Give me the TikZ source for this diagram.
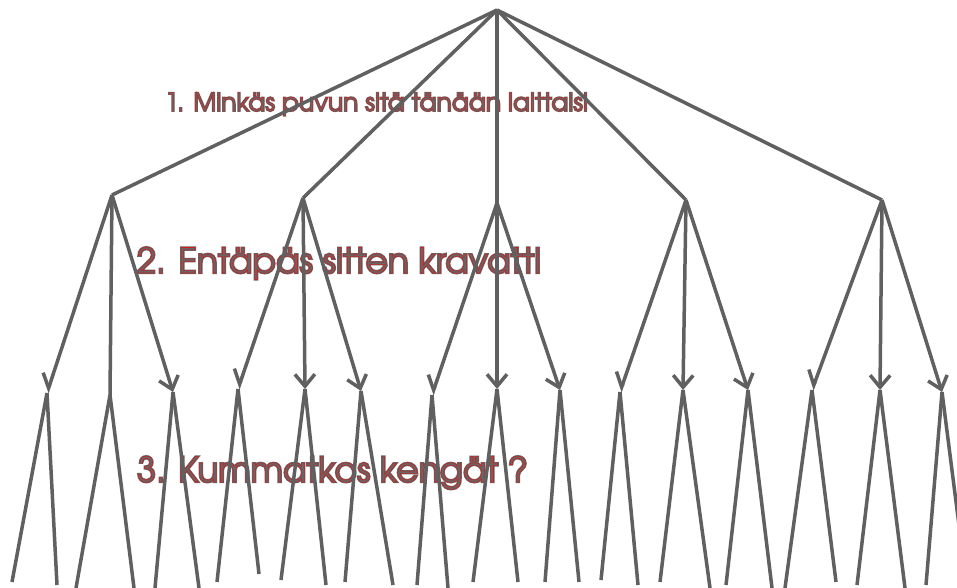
\documentclass[tikz,border=0pt]{standalone}
\usepackage{fontspec}
\setmainfont{TeX Gyre Adventor}
\usepackage{graphicx}
\usetikzlibrary{arrows.meta}
\definecolor{lgray}{HTML}{606060}
\definecolor{tgray}{HTML}{666666}
\definecolor{tred}{HTML}{D41C1C}
\newcommand{\duotext}[1]{%
  \makebox[0pt][l]{\special{pdf:literal 2 Tr 0.6 w}\textcolor{tgray}{#1}\special{pdf:literal 0 Tr}}%
  \special{pdf:literal 1 Tr 0.16 w}\textcolor{tred}{#1}\special{pdf:literal 0 Tr}}
\begin{document}
\begin{tikzpicture}[x=1pt,y=-1pt,
  edge/.style={draw=lgray, line width=3.5pt},
  barb/.style={-{Straight Barb[length=12pt,width=20pt]}},
  half/.style={-{Straight Barb[length=13pt,width=20pt,harpoon,swap]}},
  lab/.style={anchor=base west, inner sep=0pt, outer sep=0pt}]
\useasboundingbox (0,0) rectangle (957,588);
\clip (0,0) rectangle (957,588);
% labels
\node[lab] (t1) at (165,111) {\resizebox{423pt}{!}{\duotext{1. Minkäs puvun sitä tänään laittaisi}}};
\node[lab] (t2) at (137,273) {\resizebox{404pt}{!}{\duotext{2. Entäpäs sitten kravatti}}};
\node[lab] (t3) at (137,482) {\resizebox{391pt}{!}{\duotext{3. Kummatkos kengät ?}}};
% level 0 and 1
\coordinate (top) at (497,10);
\coordinate (n1) at (112,195);
\coordinate (n2) at (303,198);
\coordinate (n3) at (497,203);
\coordinate (n4) at (686,200);
\coordinate (n5) at (882,200);
% level 2
\coordinate (a1) at (47,393);  \coordinate (a2) at (110,395); \coordinate (a3) at (173,392);
\coordinate (b1) at (238,389); \coordinate (b2) at (305,389); \coordinate (b3) at (361,391);
\coordinate (c1) at (432,395); \coordinate (c2) at (497,389); \coordinate (c3) at (560,390);
\coordinate (d1) at (620,392); \coordinate (d2) at (683,390); \coordinate (d3) at (748,390);
\coordinate (e1) at (812,390); \coordinate (e2) at (880,390); \coordinate (e3) at (942,392);
% leaves
\coordinate (a1l) at (12,582);  \coordinate (a1r) at (57,585);
\coordinate (a2l) at (76,588);  \coordinate (a2r) at (134,588);
\coordinate (a3l) at (155,588); \coordinate (a3r) at (199,588);
\coordinate (b1l) at (217,582); \coordinate (b1r) at (259,574);
\coordinate (b2l) at (281,580); \coordinate (b2r) at (326,585);
\coordinate (b3l) at (345,582); \coordinate (b3r) at (393,585);
\coordinate (c1l) at (417,585); \coordinate (c1r) at (448,588);
\coordinate (c2l) at (473,582); \coordinate (c2r) at (518,582);
\coordinate (c3l) at (545,582); \coordinate (c3r) at (579,582);
\coordinate (d1l) at (601,580); \coordinate (d1r) at (638,585);
\coordinate (d2l) at (660,582); \coordinate (d2r) at (710,588);
\coordinate (d3l) at (726,585); \coordinate (d3r) at (772,588);
\coordinate (e1l) at (785,588); \coordinate (e1r) at (836,582);
\coordinate (e2l) at (857,585); \coordinate (e2r) at (905,588);
\coordinate (e3l) at (926,585); \coordinate (e3r) at (967,588);
% top edges
\foreach \n in {n1,n2,n3,n4,n5} \draw[edge] (top) -- (\n);
% level 1 -> level 2
\draw[edge,half] (n1) -- (a1);
\draw[edge] (n1) -- (a2);
\draw[edge,barb] (n1) -- (a3);
\draw[edge,half] (n2) -- (b1);
\draw[edge,barb] (n2) -- (b2);
\draw[edge,barb] (n2) -- (b3);
\draw[edge,half] (n3) -- (c1);
\draw[edge,barb] (n3) -- (c2);
\draw[edge,barb] (n3) -- (c3);
\draw[edge,half] (n4) -- (d1);
\draw[edge,barb] (n4) -- (d2);
\draw[edge,barb] (n4) -- (d3);
\draw[edge,half] (n5) -- (e1);
\draw[edge,barb] (n5) -- (e2);
\draw[edge,barb] (n5) -- (e3);
% level 2 -> leaves
\foreach \m in {a1,a2,a3,b1,b2,b3,c1,c2,c3,d1,d2,d3,e1,e2,e3}{
  \draw[edge] (\m) -- (\m l);
  \draw[edge] (\m) -- (\m r);
}
\end{tikzpicture}
\end{document}
